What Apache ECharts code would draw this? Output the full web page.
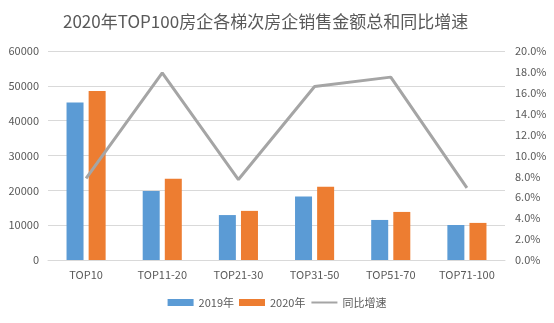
<!DOCTYPE html>
<html>
<head>
<meta charset="utf-8">
<script src="https://cdn.jsdelivr.net/npm/echarts@6/dist/echarts.min.js"></script>
<style>
  html, body { margin: 0; padding: 0; background: #ffffff; }
  #chart { width: 554px; height: 323px; }
</style>
</head>
<body>
<div id="chart"></div>
<script>
// Tiers of the TOP100 developers
var categories = ['TOP10', 'TOP11-20', 'TOP21-30', 'TOP31-50', 'TOP51-70', 'TOP71-100'];
// Total sales (亿元) per tier
var sales2019 = [45200, 19800, 12900, 18200, 11500, 10050];
var sales2020 = [48500, 23300, 14100, 21000, 13800, 10650];
// Year-over-year growth rate
var growth = [0.078, 0.179, 0.077, 0.166, 0.175, 0.069];

var seriesNames = ['2019年', '2020年', '同比增速'];
var titleText = '2020年TOP100房企各梯次房企销售金额总和同比增速';

var textColor = '#595959';
var gridColor = '#d9d9d9';
var font = '"Noto Sans CJK SC", "Noto Sans", sans-serif';

var chart = echarts.init(document.getElementById('chart'), null, { renderer: 'canvas' });
chart.setOption({
  animation: false,
  backgroundColor: '#ffffff',
  title: {
    text: titleText,
    left: 58,
    top: 8,
    textStyle: { color: textColor, fontSize: 17, fontWeight: 'normal', fontFamily: font }
  },
  legend: {
    bottom: 10,
    left: 'center',
    itemWidth: 26,
    itemHeight: 7,
    itemGap: 5,
    textStyle: { color: textColor, fontSize: 11, fontFamily: font },
    data: [
      { name: seriesNames[0], icon: 'rect' },
      { name: seriesNames[1], icon: 'rect' },
      // plain line swatch, no marker
      { name: seriesNames[2], itemStyle: { opacity: 0 } }
    ]
  },
  grid: { left: 48, right: 49, top: 51, bottom: 63, containLabel: false },
  xAxis: {
    type: 'category',
    data: categories,
    axisLine: { lineStyle: { color: gridColor } },
    axisTick: { show: false },
    axisLabel: { color: textColor, fontSize: 11, fontFamily: font, margin: 9 }
  },
  yAxis: [
    {
      type: 'value',
      min: 0, max: 60000, interval: 10000,
      axisLine: { show: false },
      axisTick: { show: false },
      splitLine: { lineStyle: { color: gridColor } },
      axisLabel: {
        color: textColor, fontSize: 11, fontFamily: font, margin: 9,
        formatter: function (v) { return String(v); }
      }
    },
    {
      type: 'value',
      min: 0, max: 0.2, interval: 0.02,
      axisLine: { show: false },
      axisTick: { show: false },
      splitLine: { show: false },
      axisLabel: {
        color: textColor, fontSize: 11, fontFamily: font, margin: 10,
        formatter: function (v) { return (v * 100).toFixed(1) + '%'; }
      }
    }
  ],
  series: [
    {
      name: seriesNames[0], type: 'bar', data: sales2019,
      barWidth: 17, barGap: '30%',
      itemStyle: { color: '#5b9bd5' }
    },
    {
      name: seriesNames[1], type: 'bar', data: sales2020,
      barWidth: 17, barGap: '30%',
      itemStyle: { color: '#ed7d31' }
    },
    {
      name: seriesNames[2], type: 'line', yAxisIndex: 1, data: growth,
      symbol: 'none', showSymbol: false,
      lineStyle: { color: '#a5a5a5', width: 3 },
      itemStyle: { color: '#a5a5a5' }
    }
  ]
});
</script>
</body>
</html>
